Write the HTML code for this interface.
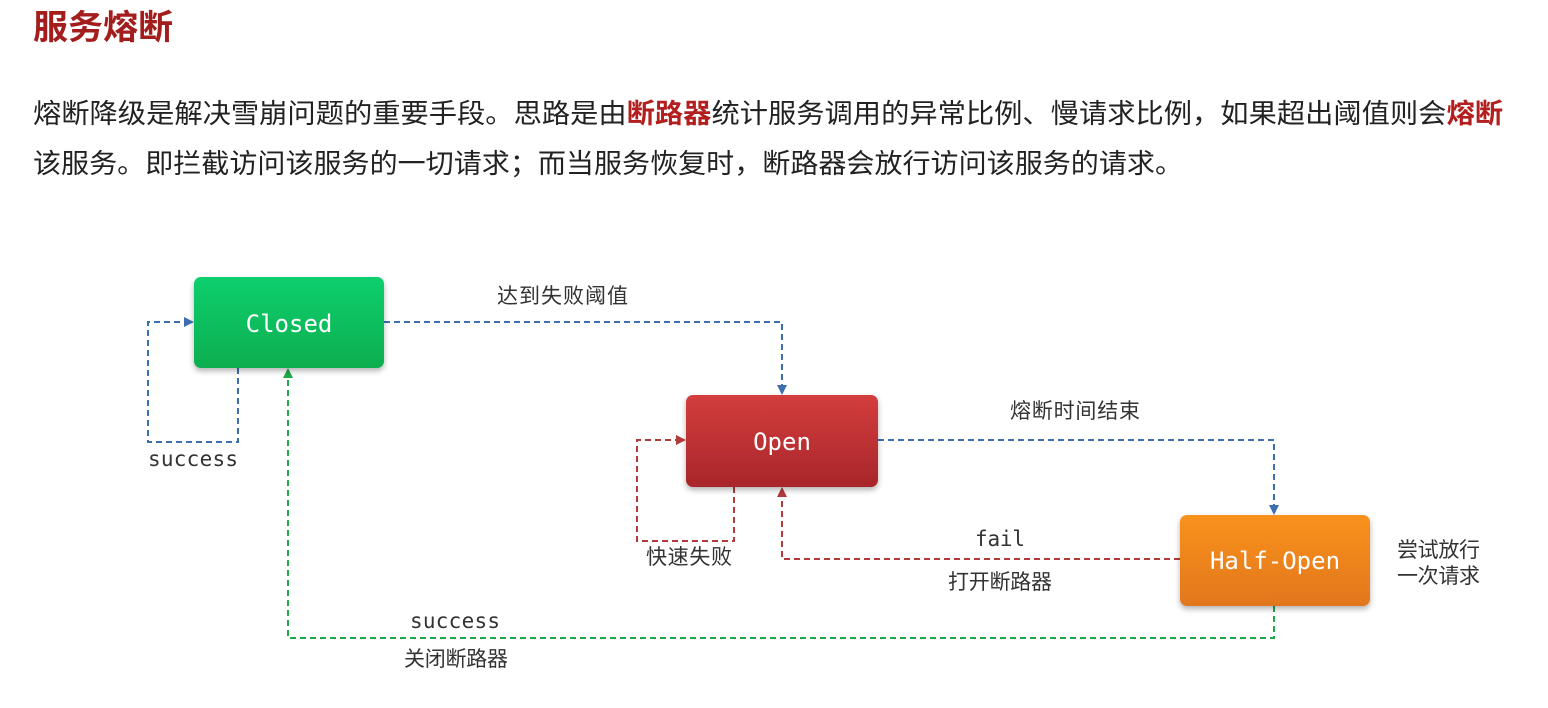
<!DOCTYPE html>
<html><head><meta charset="utf-8"><style>
html,body{margin:0;padding:0;background:#fff;width:1548px;height:708px;overflow:hidden}
svg text{font-family:"Liberation Sans","Noto Sans CJK SC",sans-serif}
.m{font-family:"DejaVu Sans Mono","Liberation Mono","Noto Sans CJK SC",monospace}
</style></head><body>
<svg width="1548" height="708" viewBox="0 0 1548 708" xmlns="http://www.w3.org/2000/svg">
<defs>
<linearGradient id="g" x1="0" y1="0" x2="0" y2="1"><stop offset="0" stop-color="#0fcf6e"/><stop offset="1" stop-color="#0aae4e"/></linearGradient>
<linearGradient id="r" x1="0" y1="0" x2="0" y2="1"><stop offset="0" stop-color="#d33d3d"/><stop offset="1" stop-color="#a8262a"/></linearGradient>
<linearGradient id="o" x1="0" y1="0" x2="0" y2="1"><stop offset="0" stop-color="#f8921f"/><stop offset="1" stop-color="#e2761a"/></linearGradient>
<filter id="s" x="-10%" y="-10%" width="130%" height="140%"><feDropShadow dx="0" dy="3" stdDeviation="3" flood-opacity="0.3"/></filter>
<marker id="ab" markerWidth="10" markerHeight="10" refX="9" refY="5" orient="auto" markerUnits="userSpaceOnUse"><path d="M0,0 L10,5 L0,10 z" fill="#3d6fb0"/></marker>
<marker id="ar" markerWidth="10" markerHeight="10" refX="9" refY="5" orient="auto" markerUnits="userSpaceOnUse"><path d="M0,0 L10,5 L0,10 z" fill="#b33a3a"/></marker>
<marker id="ag" markerWidth="10" markerHeight="10" refX="9" refY="5" orient="auto" markerUnits="userSpaceOnUse"><path d="M0,0 L10,5 L0,10 z" fill="#1fa84a"/></marker>
</defs>
<text x="33" y="39" font-size="34" font-weight="bold" fill="#a31d1d" textLength="140" lengthAdjust="spacingAndGlyphs">服务熔断</text>
<text x="33" y="123" font-size="27" fill="#222" textLength="1470" lengthAdjust="spacingAndGlyphs">熔断降级是解决雪崩问题的重要手段。思路是由<tspan fill="#b31f1f" font-weight="bold">断路器</tspan>统计服务调用的异常比例、慢请求比例，如果超出阈值则会<tspan fill="#b31f1f" font-weight="bold">熔断</tspan></text>
<text x="33" y="173" font-size="27" fill="#222" textLength="1150" lengthAdjust="spacingAndGlyphs">该服务。即拦截访问该服务的一切请求；而当服务恢复时，断路器会放行访问该服务的请求。</text>
<g fill="none" stroke-width="2" stroke-dasharray="6,4">
<path d="M384,322 H782 V394" stroke="#3d6fb0" marker-end="url(#ab)"/>
<path d="M238,368 V442 H148 V322 H193" stroke="#3d6fb0" marker-end="url(#ab)"/>
<path d="M878,440 H1274 V514" stroke="#3d6fb0" marker-end="url(#ab)"/>
<path d="M734,487 V541 H637 V440 H685" stroke="#b33a3a" marker-end="url(#ar)"/>
<path d="M1180,559 H782 V488" stroke="#b33a3a" marker-end="url(#ar)"/>
<path d="M1274,606 V638 H288 V369" stroke="#1fa84a" marker-end="url(#ag)"/>
</g>
<rect x="194" y="277" width="190" height="91" rx="7" fill="url(#g)" filter="url(#s)"/>
<rect x="686" y="395" width="192" height="92" rx="7" fill="url(#r)" filter="url(#s)"/>
<rect x="1180" y="515" width="190" height="91" rx="7" fill="url(#o)" filter="url(#s)"/>
<text x="289" y="332" font-size="24" fill="#fff" text-anchor="middle" class="m">Closed</text>
<text x="782" y="450" font-size="24" fill="#fff" text-anchor="middle" class="m">Open</text>
<text x="1275" y="569" font-size="24" fill="#fff" text-anchor="middle" class="m">Half-Open</text>
<g font-size="21" fill="#333">
<text x="497" y="303" textLength="131">达到失败阈值</text>
<text x="148" y="466" class="m" textLength="90">success</text>
<text x="1010" y="418" textLength="130">熔断时间结束</text>
<text x="646" y="564" textLength="86">快速失败</text>
<text x="975" y="546" class="m" textLength="50">fail</text>
<text x="948" y="589" textLength="104">打开断路器</text>
<text x="1397" y="557" textLength="83">尝试放行</text>
<text x="1397" y="583" textLength="83">一次请求</text>
<text x="410" y="628" class="m" textLength="90">success</text>
<text x="404" y="666" textLength="104">关闭断路器</text>
</g>
</svg>
</body></html>
